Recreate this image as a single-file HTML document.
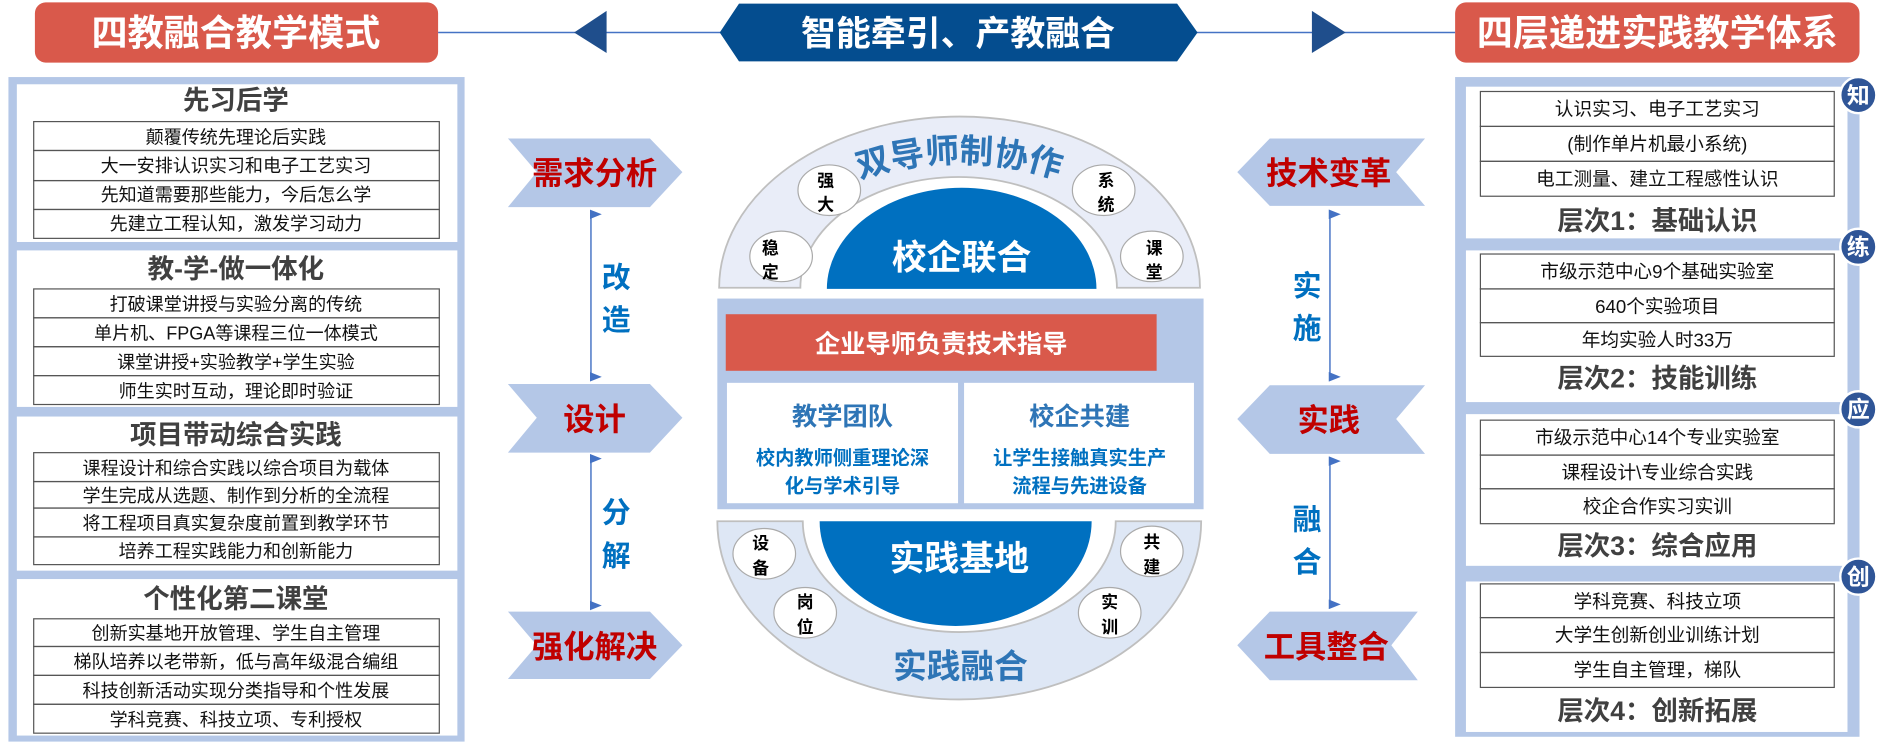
<!DOCTYPE html>
<html><head><meta charset="utf-8"><style>
html,body{margin:0;padding:0;background:#fff;}
svg{display:block;}
text{font-family:"Liberation Sans","Noto Sans CJK SC",sans-serif;}
</style></head><body>
<svg width="1886" height="744" viewBox="0 0 1567 618" preserveAspectRatio="none" xmlns="http://www.w3.org/2000/svg">
<defs>
<marker id="ah" markerWidth="8" markerHeight="10" refX="4" refY="9" orient="auto" markerUnits="userSpaceOnUse">
<path d="M0,10 L4,0 L8,10 Z" fill="#4472C4"/></marker>
<path id="arcTop" d="M630,239 A167,104 0 0 1 964,239"/>
</defs>
<!-- top -->
<line x1="364" y1="27" x2="1209" y2="27" stroke="#4472C4" stroke-width="1.2"/>
<polygon points="477,27 504,9 504,44" fill="#1F4E8C"/>
<polygon points="1118,27 1090,9 1090,44" fill="#1F4E8C"/>
<polygon points="598,27 614,3 978,3 995,27 978,51 614,51" fill="#044D8F"/>
<text x="796" y="38" text-anchor="middle" font-size="29" font-weight="bold" fill="#fff">智能牵引、产教融合</text>
<rect x="29" y="2" width="335" height="50" rx="9" fill="#D9594B"/>
<text x="196" y="38" text-anchor="middle" font-size="30" font-weight="bold" fill="#fff">四教融合教学模式</text>
<rect x="1209" y="2" width="336" height="50" rx="9" fill="#D9594B"/>
<text x="1377" y="38" text-anchor="middle" font-size="30" font-weight="bold" fill="#fff">四层递进实践教学体系</text>

<!-- left panel -->
<rect x="7" y="64" width="379" height="552" fill="#B4C7E7"/>
<g font-size="15" fill="#111" text-anchor="middle">
<rect x="14" y="70" width="366" height="131" fill="#fff"/>
<rect x="14" y="208" width="366" height="130" fill="#fff"/>
<rect x="14" y="346" width="366" height="128" fill="#fff"/>
<rect x="14" y="481" width="366" height="130" fill="#fff"/>
<g font-size="22" font-weight="bold" fill="#404040">
<text x="196" y="91">先习后学</text>
<text x="196" y="231">教-学-做一体化</text>
<text x="196" y="369">项目带动综合实践</text>
<text x="196" y="505">个性化第二课堂</text>
</g>
<g fill="none" stroke="#555" stroke-width="1">
<rect x="28" y="101" width="337" height="24"/><rect x="28" y="125" width="337" height="25"/><rect x="28" y="150" width="337" height="24"/><rect x="28" y="174" width="337" height="24"/>
<rect x="28" y="240" width="337" height="24"/><rect x="28" y="264" width="337" height="24"/><rect x="28" y="288" width="337" height="24"/><rect x="28" y="312" width="337" height="24"/>
<rect x="28" y="376" width="337" height="24"/><rect x="28" y="400" width="337" height="22"/><rect x="28" y="422" width="337" height="24"/><rect x="28" y="446" width="337" height="23"/>
<rect x="28" y="514" width="337" height="23"/><rect x="28" y="537" width="337" height="24"/><rect x="28" y="561" width="337" height="24"/><rect x="28" y="585" width="337" height="24"/>
</g>
<text x="196" y="119">颠覆传统先理论后实践</text>
<text x="196" y="143">大一安排认识实习和电子工艺实习</text>
<text x="196" y="167">先知道需要那些能力，今后怎么学</text>
<text x="196" y="191">先建立工程认知，激发学习动力</text>
<text x="196" y="258">打破课堂讲授与实验分离的传统</text>
<text x="196" y="282">单片机、FPGA等课程三位一体模式</text>
<text x="196" y="306">课堂讲授+实验教学+学生实验</text>
<text x="196" y="330">师生实时互动，理论即时验证</text>
<text x="196" y="394">课程设计和综合实践以综合项目为载体</text>
<text x="196" y="417">学生完成从选题、制作到分析的全流程</text>
<text x="196" y="440">将工程项目真实复杂度前置到教学环节</text>
<text x="196" y="463">培养工程实践能力和创新能力</text>
<text x="196" y="531">创新实基地开放管理、学生自主管理</text>
<text x="196" y="555">梯队培养以老带新，低与高年级混合编组</text>
<text x="196" y="579">科技创新活动实现分类指导和个性发展</text>
<text x="196" y="603">学科竞赛、科技立项、专利授权</text>
</g>

<!-- left chevrons -->
<g fill="#B4C7E7">
<polygon points="422,115 540,115 567,143 540,172 422,172 446,143"/>
<polygon points="422,319 540,319 567,347 540,376 422,376 446,347"/>
<polygon points="422,508 540,508 567,536 540,564 422,564 446,536"/>
</g>
<g font-size="26" font-weight="bold" fill="#C00000" text-anchor="middle">
<text x="494" y="153">需求分析</text>
<text x="494" y="357">设计</text>
<text x="494" y="546">强化解决</text>
</g>
<line x1="491" y1="178" x2="491" y2="313" stroke="#4472C4" stroke-width="1.2" marker-start="url(#ah)" marker-end="url(#ah)"/>
<line x1="491" y1="381" x2="491" y2="503" stroke="#4472C4" stroke-width="1.2" marker-start="url(#ah)" marker-end="url(#ah)"/>
<g font-size="24" font-weight="bold" fill="#0070C0" text-anchor="middle">
<text x="512" y="239">改</text><text x="512" y="274">造</text>
<text x="512" y="434">分</text><text x="512" y="470">解</text>
</g>

<!-- right chevrons -->
<g fill="#B4C7E7">
<polygon points="1028,143 1055,115 1184,115 1160,143 1184,171 1055,171"/>
<polygon points="1028,348 1055,320 1184,320 1160,348 1184,377 1055,377"/>
<polygon points="1028,536 1055,508 1178,508 1156,536 1178,565 1055,565"/>
</g>
<g font-size="26" font-weight="bold" fill="#C00000" text-anchor="middle">
<text x="1104" y="153">技术变革</text>
<text x="1104" y="358">实践</text>
<text x="1102" y="546">工具整合</text>
</g>
<line x1="1105" y1="178" x2="1105" y2="313" stroke="#4472C4" stroke-width="1.2" marker-start="url(#ah)" marker-end="url(#ah)"/>
<line x1="1105" y1="383" x2="1105" y2="502" stroke="#4472C4" stroke-width="1.2" marker-start="url(#ah)" marker-end="url(#ah)"/>
<g font-size="24" font-weight="bold" fill="#0070C0" text-anchor="middle">
<text x="1086" y="246">实</text><text x="1086" y="281">施</text>
<text x="1086" y="440">融</text><text x="1086" y="475">合</text>
</g>

<!-- right panel -->
<rect x="1209" y="64" width="336" height="548" fill="#B4C7E7"/>
<rect x="1218" y="72" width="317" height="126" fill="#fff"/>
<rect x="1218" y="208" width="317" height="126" fill="#fff"/>
<rect x="1218" y="344" width="317" height="126" fill="#fff"/>
<rect x="1218" y="483" width="317" height="125" fill="#fff"/>
<g fill="none" stroke="#555" stroke-width="1">
<rect x="1230" y="76" width="294" height="29"/><rect x="1230" y="105" width="294" height="29"/><rect x="1230" y="134" width="294" height="29"/>
<rect x="1230" y="211" width="294" height="29"/><rect x="1230" y="240" width="294" height="28"/><rect x="1230" y="268" width="294" height="28"/>
<rect x="1230" y="349" width="294" height="29"/><rect x="1230" y="378" width="294" height="28"/><rect x="1230" y="406" width="294" height="29"/>
<rect x="1230" y="485" width="294" height="28"/><rect x="1230" y="513" width="294" height="29"/><rect x="1230" y="542" width="294" height="29"/>
</g>
<g font-size="15.5" fill="#111" text-anchor="middle">
<text x="1377" y="96">认识实习、电子工艺实习</text>
<text x="1377" y="125">(制作单片机最小系统)</text>
<text x="1377" y="154">电工测量、建立工程感性认识</text>
<text x="1377" y="231">市级示范中心9个基础实验室</text>
<text x="1377" y="260">640个实验项目</text>
<text x="1377" y="288">年均实验人时33万</text>
<text x="1377" y="369">市级示范中心14个专业实验室</text>
<text x="1377" y="398">课程设计\专业综合实践</text>
<text x="1377" y="426">校企合作实习实训</text>
<text x="1377" y="505">学科竞赛、科技立项</text>
<text x="1377" y="533">大学生创新创业训练计划</text>
<text x="1377" y="562">学生自主管理，梯队</text>
</g>
<g font-size="22" font-weight="bold" fill="#404040" text-anchor="middle">
<text x="1377" y="191">层次1：基础认识</text>
<text x="1377" y="322">层次2：技能训练</text>
<text x="1377" y="461">层次3：综合应用</text>
<text x="1377" y="598">层次4：创新拓展</text>
</g>
<g fill="#2F5597" stroke="#fff" stroke-width="2">
<circle cx="1544" cy="79" r="15"/><circle cx="1544" cy="205" r="15"/><circle cx="1544" cy="340" r="15"/><circle cx="1544" cy="479" r="15"/>
</g>
<g font-size="19" font-weight="bold" fill="#fff" text-anchor="middle">
<text x="1544" y="86">知</text><text x="1544" y="212">练</text><text x="1544" y="347">应</text><text x="1544" y="486">创</text>
</g>

<!-- center top ring -->
<path d="M597.5,239 A199.5,142 0 0 1 997,239 L928,239 A131.5,92 0 0 0 665,239 Z" fill="#E9EDF8" stroke="#BFBFBF" stroke-width="1.5"/>
<path d="M687,240 A112,84 0 0 1 911,240 Z" fill="#0070C0"/>
<text font-size="28" font-weight="bold" fill="#2E75B6" text-anchor="middle"><textPath href="#arcTop" startOffset="50%">双导师制协作</textPath></text>
<text x="799" y="224" text-anchor="middle" font-size="29" font-weight="bold" fill="#fff">校企联合</text>
<g fill="#fff" stroke="#AAA" stroke-width="1">
<ellipse cx="689" cy="158" rx="26" ry="21"/><ellipse cx="649" cy="213" rx="26" ry="21"/>
<ellipse cx="917" cy="158" rx="26" ry="21"/><ellipse cx="957" cy="213" rx="26" ry="21"/>
</g>
<g font-size="14" font-weight="bold" fill="#000" text-anchor="middle">
<text x="686" y="155">强</text><text x="686" y="175">大</text>
<text x="640" y="211">稳</text><text x="640" y="231">定</text>
<text x="919" y="155">系</text><text x="919" y="175">统</text>
<text x="959" y="211">课</text><text x="959" y="231">堂</text>
</g>

<!-- middle -->
<rect x="596" y="248" width="404" height="175" fill="#B4C7E7"/>
<rect x="603" y="261" width="358" height="47" fill="#D9594B"/>
<text x="782" y="293" text-anchor="middle" font-size="21" font-weight="bold" fill="#fff">企业导师负责技术指导</text>
<rect x="604" y="318" width="192" height="100" fill="#fff"/>
<rect x="801" y="318" width="191" height="100" fill="#fff"/>
<g font-size="21" font-weight="bold" fill="#2E75B6" text-anchor="middle">
<text x="700" y="353">教学团队</text><text x="897" y="353">校企共建</text>
</g>
<g font-size="16" font-weight="bold" fill="#0070C0" text-anchor="middle">
<text x="700" y="386">校内教师侧重理论深</text><text x="700" y="409">化与学术引导</text>
<text x="897" y="386">让学生接触真实生产</text><text x="897" y="409">流程与先进设备</text>
</g>

<!-- bottom ring -->
<path d="M596,433 A201,148 0 0 0 998,433 L927,433 A130,92 0 0 1 667,433 Z" fill="#DEE7F5" stroke="#BFBFBF" stroke-width="1.5"/>
<path d="M681,433 A113,87 0 0 0 907,433 Z" fill="#0070C0"/>
<text x="797" y="474" text-anchor="middle" font-size="29" font-weight="bold" fill="#fff">实践基地</text>
<text x="798" y="563" text-anchor="middle" font-size="28" font-weight="bold" fill="#2E75B6">实践融合</text>
<g fill="#fff" stroke="#AAA" stroke-width="1">
<ellipse cx="635" cy="460" rx="26" ry="21"/><ellipse cx="669" cy="509" rx="26" ry="21"/>
<ellipse cx="957" cy="458" rx="26" ry="21"/><ellipse cx="922" cy="509" rx="26" ry="21"/>
</g>
<g font-size="14" font-weight="bold" fill="#000" text-anchor="middle">
<text x="632" y="456">设</text><text x="632" y="477">备</text>
<text x="669" y="505">岗</text><text x="669" y="526">位</text>
<text x="957" y="455">共</text><text x="957" y="476">建</text>
<text x="922" y="505">实</text><text x="922" y="526">训</text>
</g>
</svg>
</body></html>
